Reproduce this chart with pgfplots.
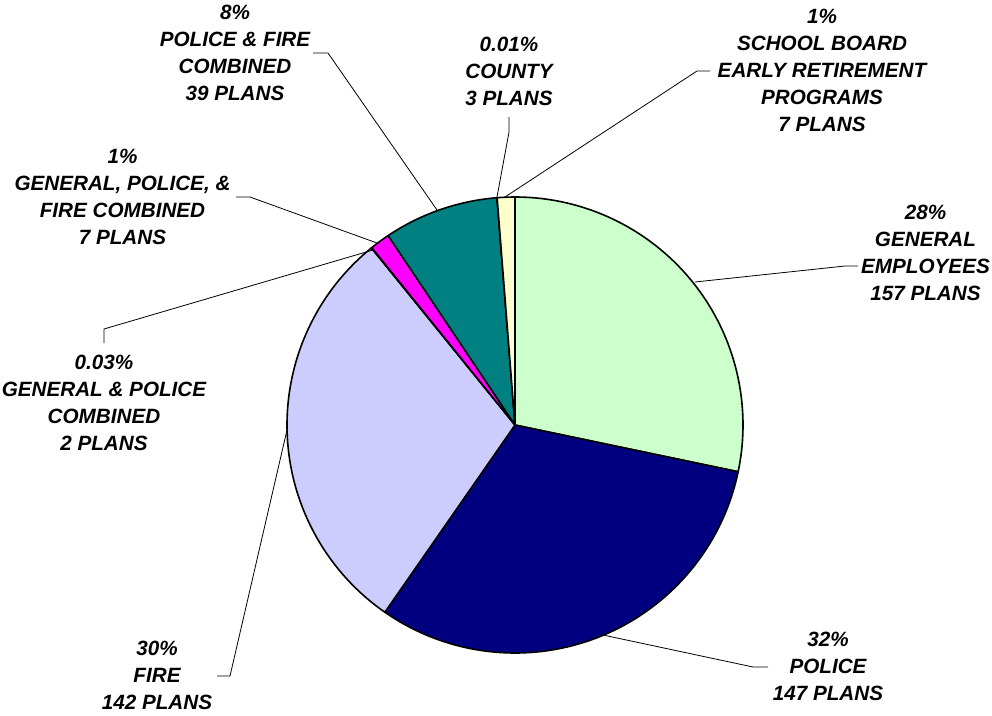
\documentclass[border=0pt]{standalone}
\usepackage{pgfplots}
\pgfplotsset{compat=1.18}
\usepackage{pgfplotstable}
\usepackage{fontspec}
\setmainfont{Liberation Sans}

\definecolor{cgen}{HTML}{CCFFCC}
\definecolor{cpol}{HTML}{000080}
\definecolor{cfire}{HTML}{CCCCFF}
\definecolor{cgp}{HTML}{993366}
\definecolor{cgpf}{HTML}{FF00FF}
\definecolor{cpf}{HTML}{008080}
\definecolor{ccounty}{HTML}{FFFF00}
\definecolor{cschool}{HTML}{FFFFCC}

% share of assets (%), clockwise from 12 o'clock
\pgfplotstableread{
share  colour
28.3   cgen
31.4   cpol
29.5   cfire
0.03   cgp
1.42   cgpf
8.14   cpf
0.01   ccounty
1.25   cschool
}\piedata

\begin{document}
\begin{tikzpicture}[lbl/.style={font=\fontsize{15.5}{20.25}\selectfont\bfseries\itshape, align=center, inner sep=0pt}]
\pgfplotstablegetrowsof{\piedata}
\pgfmathtruncatemacro\lastrow{\pgfplotsretval-1}
\def\total{0}
\pgfplotsforeachungrouped \i in {0,...,\lastrow}{%
  \pgfplotstablegetelem{\i}{share}\of\piedata
  \pgfmathsetmacro\total{\total+\pgfplotsretval}%
}
\begin{axis}[
    x=0.75pt, y=0.75pt,
    xmin=0, xmax=992, ymin=0, ymax=715,
    y dir=reverse,
    hide axis, clip=false,
]
    \coordinate (ll) at (axis cs:0,715);
    \coordinate (ur) at (axis cs:992,0);
    % slices
    \def\startangle{90}
    \pgfplotsforeachungrouped \i in {0,...,\lastrow}{%
      \pgfplotstablegetelem{\i}{share}\of\piedata
      \pgfmathsetmacro\endangle{\startangle-\pgfplotsretval*360/\total}%
      \pgfplotstablegetelem{\i}{colour}\of\piedata
      \edef\slice{\noexpand\filldraw[fill=\pgfplotsretval, draw=black, line width=1.2pt, line join=round]
        (axis cs:515,425) -- ++(\startangle:171pt) arc[start angle=\startangle, end angle=\endangle, radius=171pt] -- cycle;}%
      \slice
      \let\startangle\endangle
    }
    % leader lines
    \addplot[black, line width=0.6pt] coordinates {(313,53) (328,53) (437,210)};
    \addplot[black, line width=0.6pt] coordinates {(236,197) (250,197) (377,243)};
    \addplot[black, line width=0.6pt] coordinates {(509,117) (509,132) (497,197)};
    \addplot[black, line width=0.6pt] coordinates {(710,71) (697,71) (505,197)};
    \addplot[black, line width=0.6pt] coordinates {(858,266) (845,266) (695,282)};
    \addplot[black, line width=0.6pt] coordinates {(768,667) (753,667) (603,635)};
    \addplot[black, line width=0.6pt] coordinates {(104,343) (104,329) (373,250)};
    \addplot[black, line width=0.6pt] coordinates {(217,676) (230,676) (287,430)};
    % labels
    \node[lbl] at (axis cs:235,52.5) {8\%\\POLICE \& FIRE\\COMBINED\\39 PLANS};
    \node[lbl] at (axis cs:122.5,196.5) {1\%\\GENERAL, POLICE, \&\\FIRE COMBINED\\7 PLANS};
    \node[lbl] at (axis cs:509,71) {0.01\%\\COUNTY\\3 PLANS};
    \node[lbl] at (axis cs:822,70.5) {1\%\\SCHOOL BOARD\\EARLY RETIREMENT\\PROGRAMS\\7 PLANS};
    \node[lbl] at (axis cs:925.5,252.5) {28\%\\GENERAL\\EMPLOYEES\\157 PLANS};
    \node[lbl] at (axis cs:828,666.5) {32\%\\POLICE\\147 PLANS};
    \node[lbl] at (axis cs:104,402.5) {0.03\%\\GENERAL \& POLICE\\COMBINED\\2 PLANS};
    \node[lbl] at (axis cs:157,675) {30\%\\FIRE\\142 PLANS};
\end{axis}
\pgfresetboundingbox
\path[use as bounding box] (ll) rectangle (ur);
\end{tikzpicture}
\end{document}
